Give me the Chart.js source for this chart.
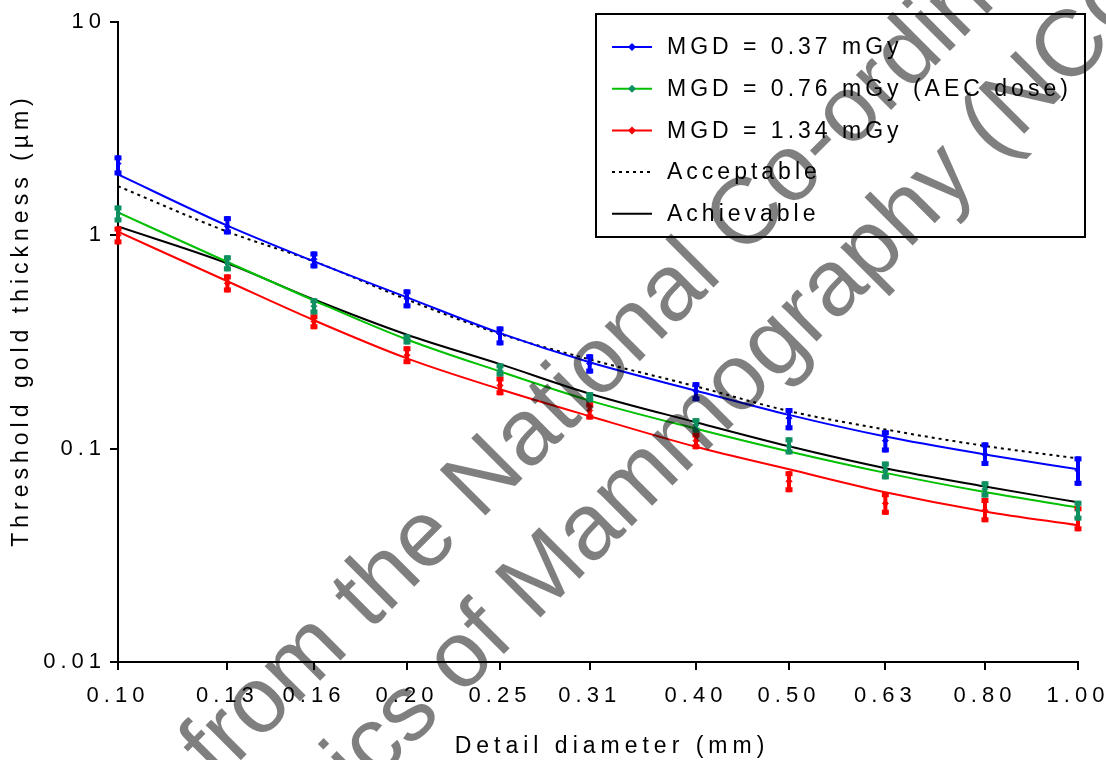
<!DOCTYPE html>
<html>
<head>
<meta charset="utf-8">
<script src="https://cdn.jsdelivr.net/npm/chart.js@4.4.0/dist/chart.umd.min.js"></script>
<style>
  html, body { margin: 0; padding: 0; background: #fff; }
</style>
</head>
<body>
<canvas id="myChart" width="1106" height="760"></canvas>
<script>
// detail diameters (mm), also used as x tick positions
const diameters = [0.10, 0.13, 0.16, 0.20, 0.25, 0.31, 0.40, 0.50, 0.63, 0.80, 1.00];
const yTicks = [0.01, 0.1, 1, 10];

// MGD = 0.37 mGy
const mean037 = [2.17, 1.10, 0.772, 0.507, 0.345, 0.251, 0.186, 0.139, 0.109, 0.094, 0.079];
const lo037   = [1.91, 1.01, 0.70, 0.455, 0.305, 0.225, 0.167, 0.122, 0.096, 0.083, 0.067];
const hi037   = [2.37, 1.23, 0.84, 0.558, 0.374, 0.277, 0.205, 0.155, 0.122, 0.107, 0.092];
const fit037  = [1.93, 1.11, 0.755, 0.512, 0.348, 0.254, 0.187, 0.144, 0.114, 0.094, 0.080];

// MGD = 0.76 mGy (AEC dose)
const mean076 = [1.27, 0.739, 0.465, 0.325, 0.232, 0.172, 0.129, 0.1025, 0.079, 0.0645, 0.0515];
const lo076   = [1.15, 0.678, 0.426, 0.308, 0.218, 0.165, 0.119, 0.094, 0.0718, 0.059, 0.046];
const hi076   = [1.38, 0.806, 0.507, 0.343, 0.251, 0.184, 0.139, 0.113, 0.087, 0.0703, 0.057];
const fit076  = [1.28, 0.750, 0.495, 0.325, 0.230, 0.168, 0.124, 0.097, 0.077, 0.0626, 0.053];

// MGD = 1.34 mGy
const mean134 = [1.00, 0.596, 0.395, 0.274, 0.198, 0.151, 0.109, 0.0703, 0.0554, 0.0514, 0.0471];
const lo134   = [0.907, 0.54, 0.363, 0.249, 0.178, 0.137, 0.0994, 0.0625, 0.049, 0.0452, 0.041];
const hi134   = [1.10, 0.656, 0.426, 0.302, 0.218, 0.165, 0.119, 0.0784, 0.0625, 0.0587, 0.0537];
const fit134  = [1.04, 0.609, 0.400, 0.265, 0.190, 0.142, 0.102, 0.080, 0.0625, 0.0508, 0.0437];

// limiting values
const acceptable = [1.70, 1.04, 0.755, 0.500, 0.345, 0.262, 0.196, 0.150, 0.123, 0.103, 0.090];
const achievable = [1.10, 0.739, 0.500, 0.342, 0.249, 0.181, 0.133, 0.1026, 0.081, 0.0665, 0.056];

const xTitle = 'Detail diameter (mm)';
const yTitle = 'Threshold gold thickness (\u00b5m)';

const FONT = "'Liberation Sans', Arial, sans-serif";
const pts = arr => diameters.map((d, i) => ({x: d, y: arr[i]}));

function pointSet(label, vals, lo, hi, color) {
  return {
    label: label, data: pts(vals), errLo: lo, errHi: hi,
    showLine: false, borderColor: color, backgroundColor: color,
    pointStyle: 'rectRot', pointRadius: 3, pointBorderWidth: 1, order: 1,
  };
}
function curveSet(label, vals, color, extra) {
  return Object.assign({
    label: label, data: pts(vals), inLegend: true,
    borderColor: color, borderWidth: 2, pointRadius: 0,
    cubicInterpolationMode: 'monotone', fill: false, order: 2,
  }, extra || {});
}

// letter spaced text like the original export
const spacing = {
  id: 'spacing',
  beforeLayout(chart) { chart.ctx.letterSpacing = '5px'; },
  beforeDraw(chart) { chart.ctx.letterSpacing = '5px'; },
};

const errorBars = {
  id: 'errorBars',
  afterDatasetDraw(chart, args) {
    const ds = chart.data.datasets[args.index];
    if (!ds.errLo) return;
    const {ctx, scales: {x, y}} = chart;
    ctx.save();
    ctx.fillStyle = ds.borderColor;
    ds.data.forEach((p, j) => {
      const px = x.getPixelForValue(p.x);
      const top = y.getPixelForValue(ds.errHi[j]);
      const bot = y.getPixelForValue(ds.errLo[j]);
      ctx.fillRect(px - 2, top, 4, bot - top);
      ctx.fillRect(px - 3.5, top, 7, 5);
      ctx.fillRect(px - 3.5, bot - 5, 7, 5);
    });
    ctx.restore();
  }
};

// axis titles, placed off-centre as in the original
const axisTitles = {
  id: 'axisTitles',
  afterDatasetsDraw(chart, args, o) {
    const {ctx, chartArea: a} = chart;
    ctx.save();
    ctx.fillStyle = '#000';
    ctx.font = o.font;
    ctx.letterSpacing = o.spacing;
    ctx.textAlign = 'center';
    ctx.textBaseline = 'middle';
    ctx.fillText(xTitle, (a.left + a.right) / 2 + o.xShift, o.xTitleY);
    ctx.translate(o.yTitleX, (a.top + a.bottom) / 2 + o.yShift);
    ctx.rotate(-Math.PI / 2);
    ctx.fillText(yTitle, 0, 0);
    ctx.restore();
  }
};

const boxLegend = {
  id: 'boxLegend',
  afterDatasetsDraw(chart, args, o) {
    const ctx = chart.ctx;
    ctx.save();
    ctx.fillStyle = '#fff';
    ctx.fillRect(o.x, o.y, o.w, o.h);
    ctx.lineWidth = 2;
    ctx.strokeStyle = '#000';
    ctx.strokeRect(o.x, o.y, o.w, o.h);
    const items = chart.data.datasets.filter(d => d.inLegend);
    items.forEach((ds, k) => {
      const cy = o.y + o.first + k * o.step;
      ctx.beginPath();
      ctx.setLineDash(ds.borderDash || []);
      ctx.strokeStyle = ds.borderColor;
      ctx.lineWidth = ds.borderWidth;
      ctx.moveTo(o.x + 16, cy);
      ctx.lineTo(o.x + 56, cy);
      ctx.stroke();
      ctx.setLineDash([]);
      if (ds.markerColor) {
        ctx.fillStyle = ds.markerColor;
        ctx.beginPath();
        ctx.moveTo(o.x + 36, cy - 4);
        ctx.lineTo(o.x + 40, cy);
        ctx.lineTo(o.x + 36, cy + 4);
        ctx.lineTo(o.x + 32, cy);
        ctx.closePath();
        ctx.fill();
      }
      ctx.fillStyle = '#000';
      ctx.font = o.font;
      ctx.letterSpacing = o.spacing;
      ctx.textAlign = 'left';
      ctx.textBaseline = 'middle';
      ctx.fillText(ds.label, o.x + 71, cy + 1);
    });
    ctx.restore();
  }
};

const watermark = {
  id: 'watermark',
  afterDraw(chart, args, o) {
    const ctx = chart.ctx;
    ctx.save();
    ctx.letterSpacing = '0px';
    ctx.font = o.font;
    ctx.fillStyle = 'rgba(0,0,0,0.5)';
    ctx.textBaseline = 'alphabetic';
    ctx.textAlign = 'left';
    o.lines.forEach(l => {
      ctx.save();
      ctx.translate(l.x, l.y);
      ctx.rotate(-o.angle * Math.PI / 180);
      ctx.fillText(l.text, -ctx.measureText(l.before).width, 0);
      ctx.restore();
    });
    ctx.restore();
  }
};

var canvas = document.getElementById('myChart').getContext('2d');
var data = {
  datasets: [
    pointSet('MGD = 0.37 mGy points', mean037, lo037, hi037, '#0000ff'),
    pointSet('MGD = 0.76 mGy points', mean076, lo076, hi076, '#0f9060'),
    pointSet('MGD = 1.34 mGy points', mean134, lo134, hi134, '#ff0000'),
    curveSet('MGD = 0.37 mGy', fit037, '#0000ff', {markerColor: '#0000ff'}),
    curveSet('MGD = 0.76 mGy (AEC dose)', fit076, '#00c000', {markerColor: '#0f9060'}),
    curveSet('MGD = 1.34 mGy', fit134, '#ff0000', {markerColor: '#ff0000'}),
    curveSet('Acceptable', acceptable, '#000', {borderDash: [3, 4]}),
    curveSet('Achievable', achievable, '#000'),
  ]
};

var option = {
  responsive: false,
  animation: false,
  layout: { padding: { top: 22, right: 28, left: 0, bottom: 0 } },
  plugins: {
    legend: { display: false },
    tooltip: { enabled: false },
    axisTitles: { font: '23px ' + FONT, spacing: '5px', xShift: 14, xTitleY: 747, yTitleX: 22, yShift: -22 },
    boxLegend: { x: 596, y: 14, w: 489, h: 223, first: 33, step: 41.7,
                 font: '23px ' + FONT, spacing: '4px' },
    watermark: {
      font: '94px ' + FONT, angle: 45,
      lines: [
        { text: 'from the National Co-ordinating Centre for the', before: 'from the ', x: 480, y: 521 },
        { text: 'Physics of Mammography (NCCPM)', before: 'Physics of ', x: 535, y: 623 },
      ]
    }
  },
  scales: {
    x: {
      type: 'logarithmic', min: 0.1, max: 1,
      afterBuildTicks: s => { s.ticks = diameters.map(v => ({value: v})); },
      afterFit: s => { s.height = 98; s.paddingLeft = 0; s.paddingRight = 0; },
      ticks: {
        callback: v => Number(v).toFixed(2), autoSkip: false, maxRotation: 0,
        color: '#000', font: { size: 22, family: FONT }, padding: 13,
      },
      grid: { drawOnChartArea: false, color: '#000', lineWidth: 2, tickLength: 8 },
      border: { color: '#000', width: 2 },
    },
    y: {
      type: 'logarithmic', min: 0.01, max: 10,
      afterBuildTicks: s => { s.ticks = yTicks.map(v => ({value: v})); },
      afterFit: s => { s.width = 118; },
      ticks: {
        callback: v => String(v), color: '#000', font: { size: 22, family: FONT }, padding: 4,
      },
      grid: { drawOnChartArea: false, color: '#000', lineWidth: 2, tickLength: 8 },
      border: { color: '#000', width: 2 },
    }
  }
};

var myChart = new Chart(canvas, {
  type: 'line', data: data, options: option,
  plugins: [spacing, errorBars, axisTitles, boxLegend, watermark]
});
</script>
</body>
</html>
